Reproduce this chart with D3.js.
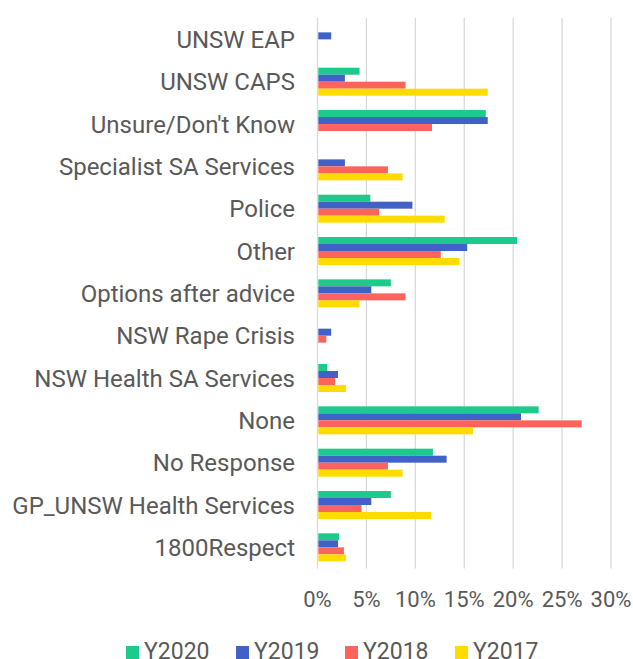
<!DOCTYPE html>
<html>
<head>
<meta charset="utf-8">
<script src="https://cdn.jsdelivr.net/npm/d3@7"></script>
<style>
  html, body { margin: 0; padding: 0; background: #fff; }
  svg { display: block; }
  text { font-family: Roboto, "Noto Sans", sans-serif; fill: #595959; }
</style>
</head>
<body>
<svg id="chart" width="633" height="659"></svg>
<script>
// Categories, top to bottom
const categories = [
  "UNSW EAP", "UNSW CAPS", "Unsure/Don't Know", "Specialist SA Services",
  "Police", "Other", "Options after advice", "NSW Rape Crisis",
  "NSW Health SA Services", "None", "No Response", "GP_UNSW Health Services",
  "1800Respect"
];
const seriesNames = ["Y2020", "Y2019", "Y2018", "Y2017"];
// Values in percent, same order as categories
const y2020 = [0, 4.3, 17.2, 0, 5.4, 20.4, 7.5, 0, 1.0, 22.6, 11.8, 7.5, 2.2];
const y2019 = [1.4, 2.8, 17.4, 2.8, 9.7, 15.3, 5.5, 1.4, 2.1, 20.8, 13.2, 5.5, 2.1];
const y2018 = [0, 9.0, 11.7, 7.2, 6.3, 12.6, 9.0, 0.9, 1.8, 27.0, 7.2, 4.5, 2.7];
const y2017 = [0, 17.4, 0, 8.7, 13.0, 14.5, 4.3, 0, 2.9, 15.9, 8.7, 11.6, 2.9];
const seriesValues = [y2020, y2019, y2018, y2017];
const seriesColors = ["#1ec98c", "#4062c6", "#ff645c", "#ffdb00"];
const xTicks = [0, 5, 10, 15, 20, 25, 30];

const svg = d3.select("#chart");
const x = d3.scaleLinear().domain([0, 30]).range([317.5, 611]);
const pIn = 1 - 28 / 42.33;
const y = d3.scaleBand().domain(categories).range([18.2, 568.5])
  .paddingInner(pIn).paddingOuter(pIn / 2);
const ySub = d3.scaleBand().domain(seriesNames).range([0, y.bandwidth()]);

// gridlines
svg.append("g").selectAll("line").data(xTicks).join("line")
  .attr("x1", d => x(d)).attr("x2", d => x(d))
  .attr("y1", 18).attr("y2", 568.5)
  .attr("stroke", "#d9d9d9").attr("stroke-width", 1.3);

// bars
const rows = [];
categories.forEach((c, i) => {
  seriesNames.forEach((s, j) => {
    rows.push({ cat: c, series: s, value: seriesValues[j][i], color: seriesColors[j] });
  });
});
svg.append("g").selectAll("rect").data(rows.filter(d => d.value > 0)).join("rect")
  .attr("x", x(0) + 0.8)
  .attr("y", d => y(d.cat) + ySub(d.series))
  .attr("width", d => x(d.value) - x(0) - 0.8)
  .attr("height", ySub.bandwidth())
  .attr("fill", d => d.color);

// category labels
svg.append("g").selectAll("text").data(categories).join("text")
  .attr("x", 295)
  .attr("y", d => y(d) + y.bandwidth() / 2 + 8.5)
  .attr("text-anchor", "end")
  .attr("font-size", 24)
  .text(d => d);

// x tick labels
svg.append("g").selectAll("text").data(xTicks).join("text")
  .attr("x", d => x(d))
  .attr("y", 607)
  .attr("text-anchor", "middle")
  .attr("font-size", 22)
  .text(d => d + "%");

// legend
const legendX = [126, 236, 345, 455];
const lg = svg.append("g").selectAll("g").data(seriesNames).join("g")
  .attr("transform", (d, i) => `translate(${legendX[i]},0)`);
lg.append("rect").attr("x", 0).attr("y", 646).attr("width", 13).attr("height", 13)
  .attr("fill", (d, i) => seriesColors[i]);
lg.append("text").attr("x", 18).attr("y", 658.5).attr("font-size", 23).text(d => d);
</script>
</body>
</html>
